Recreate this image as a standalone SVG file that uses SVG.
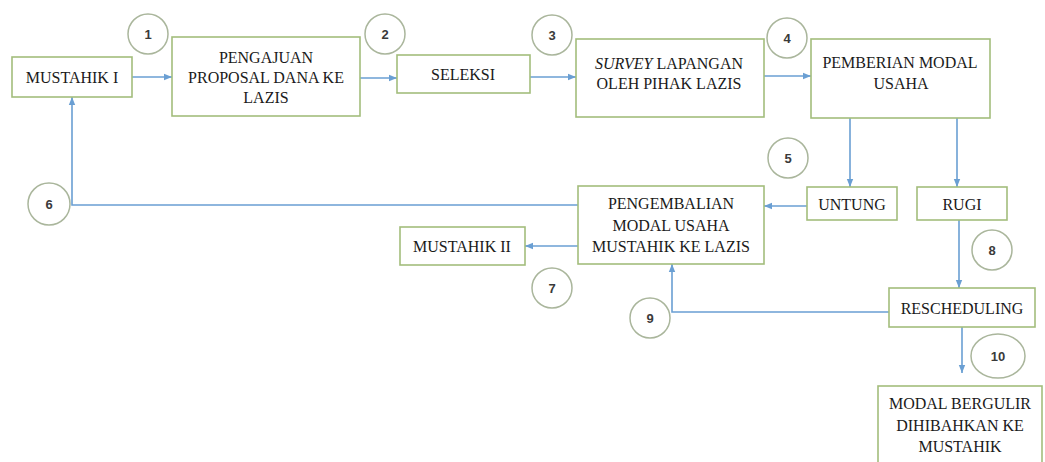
<svg xmlns="http://www.w3.org/2000/svg" width="1045" height="462" viewBox="0 0 1045 462">
<style>
.box{fill:#fff;stroke:#a3bd7c;stroke-width:1.6}
.t{font-family:"Liberation Serif","Times New Roman",serif;font-size:16px;fill:#1a1a1a;text-anchor:middle;dominant-baseline:central}
.c{fill:#fff;stroke:#aab69c;stroke-width:1.5}
.n{font-family:"Liberation Sans",Arial,sans-serif;font-size:13px;font-weight:bold;fill:#3a3a3a;text-anchor:middle;dominant-baseline:central}
.ln{fill:none;stroke:#6a9fd3;stroke-width:1.6}
</style>
<defs>
<marker id="ah" viewBox="0 0 10 10" refX="10" refY="5" markerWidth="8" markerHeight="8" markerUnits="userSpaceOnUse" orient="auto">
<path d="M0,1 L10,5 L0,9 z" fill="#6a9fd3"/>
</marker>
</defs>
<rect width="1045" height="462" fill="#fff"/>
<g id="connectors">
<path class="ln" d="M132,77 L172,77" marker-end="url(#ah)"/>
<path class="ln" d="M360,78 L397,78" marker-end="url(#ah)"/>
<path class="ln" d="M530,77 L576,77" marker-end="url(#ah)"/>
<path class="ln" d="M764,76 L811,76" marker-end="url(#ah)"/>
<path class="ln" d="M850,118 L850,187" marker-end="url(#ah)"/>
<path class="ln" d="M957,118 L957,187" marker-end="url(#ah)"/>
<path class="ln" d="M807,206 L764,206" marker-end="url(#ah)"/>
<path class="ln" d="M578,205 L72,205 L72,97" marker-end="url(#ah)"/>
<path class="ln" d="M578,246 L525,246" marker-end="url(#ah)"/>
<path class="ln" d="M959,220 L959,288" marker-end="url(#ah)"/>
<path class="ln" d="M889,312 L672,312 L672,264" marker-end="url(#ah)"/>
<path class="ln" d="M962,327 L962,373" marker-end="url(#ah)"/>
</g>
<g id="mustahik1"><rect class="box" x="12" y="57" width="120" height="40"/><text class="t" x="72" y="77">MUSTAHIK I</text></g>
<g id="pengajuan"><rect class="box" x="172" y="37" width="188" height="79"/><text class="t" x="266" y="57">PENGAJUAN</text><text class="t" x="266" y="77">PROPOSAL DANA KE</text><text class="t" x="266" y="97">LAZIS</text></g>
<g id="seleksi"><rect class="box" x="397" y="55" width="133" height="38"/><text class="t" x="463" y="74">SELEKSI</text></g>
<g id="survey"><rect class="box" x="576" y="39" width="188" height="78"/><text class="t" x="669" y="63"><tspan font-style="italic">SURVEY</tspan> LAPANGAN</text><text class="t" x="669" y="83">OLEH PIHAK LAZIS</text></g>
<g id="pemberian"><rect class="box" x="811" y="39" width="179" height="79"/><text class="t" x="900" y="62">PEMBERIAN MODAL</text><text class="t" x="901" y="83">USAHA</text></g>
<g id="untung"><rect class="box" x="807" y="187" width="90" height="33"/><text class="t" x="852" y="204">UNTUNG</text></g>
<g id="rugi"><rect class="box" x="917" y="187" width="90" height="33"/><text class="t" x="962" y="204">RUGI</text></g>
<g id="pengembalian"><rect class="box" x="578" y="186" width="186" height="78"/><text class="t" x="671" y="203">PENGEMBALIAN</text><text class="t" x="671" y="225">MODAL USAHA</text><text class="t" x="671" y="246">MUSTAHIK KE LAZIS</text></g>
<g id="mustahik2"><rect class="box" x="400" y="227" width="125" height="38"/><text class="t" x="462" y="246">MUSTAHIK II</text></g>
<g id="rescheduling"><rect class="box" x="889" y="288" width="146" height="39"/><text class="t" x="962" y="308">RESCHEDULING</text></g>
<g id="modalbergulir"><rect class="box" x="878" y="386" width="164" height="82"/><text class="t" x="960" y="403">MODAL BERGULIR</text><text class="t" x="960" y="425">DIHIBAHKAN KE</text><text class="t" x="960" y="446">MUSTAHIK</text></g>
<g id="n1"><circle class="c" cx="148" cy="34" r="20"/><text class="n" x="148" y="34">1</text></g>
<g id="n2"><circle class="c" cx="385" cy="34" r="20"/><text class="n" x="385" y="34">2</text></g>
<g id="n3"><circle class="c" cx="552" cy="35" r="20"/><text class="n" x="552" y="35">3</text></g>
<g id="n4"><circle class="c" cx="787" cy="38" r="20"/><text class="n" x="787" y="38">4</text></g>
<g id="n5"><circle class="c" cx="788" cy="158" r="20"/><text class="n" x="788" y="158">5</text></g>
<g id="n6"><circle class="c" cx="49" cy="204" r="21"/><text class="n" x="49" y="204">6</text></g>
<g id="n7"><circle class="c" cx="552" cy="288" r="20"/><text class="n" x="552" y="288">7</text></g>
<g id="n8"><circle class="c" cx="992" cy="250" r="20"/><text class="n" x="992" y="250">8</text></g>
<g id="n9"><circle class="c" cx="650" cy="318" r="20"/><text class="n" x="650" y="318">9</text></g>
<g id="n10"><ellipse class="c" cx="998" cy="356" rx="27" ry="22"/><text class="n" x="998" y="356">10</text></g>
</svg>
